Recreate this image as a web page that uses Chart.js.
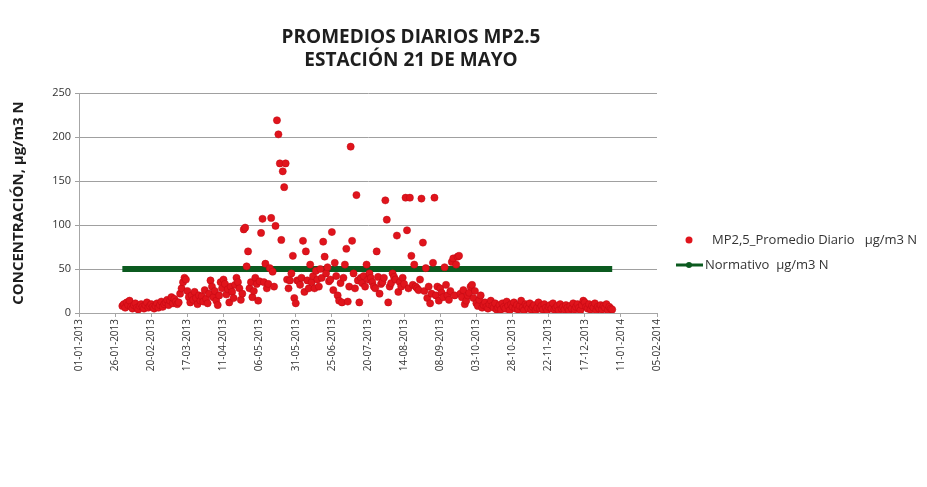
<!DOCTYPE html>
<html>
<head>
<meta charset="utf-8">
<script src="https://cdn.jsdelivr.net/npm/chart.js@4.4.1/dist/chart.umd.min.js"></script>
<style>
  html, body { margin: 0; padding: 0; background: #fff; }
  #wrap { position: relative; width: 927px; height: 487px; }
</style>
</head>
<body>
<div id="wrap"><canvas id="chart" width="927" height="487"></canvas></div>
<script>
var titleLines = ['PROMEDIOS DIARIOS MP2.5', 'ESTACIÓN 21 DE MAYO'];
var yTitle = 'CONCENTRACIÓN, µg/m3 N';
var seriesNames = ['MP2,5_Promedio Diario   µg/m3 N', 'Normativo  µg/m3 N'];

// x axis: days counted from 01-01-2013, tick every 25 days
var axisStart = Date.UTC(2013, 0, 1);
var xMin = 0, xMax = 400, xStep = 25;
var yMin = 0, yMax = 250, yStep = 50;

// daily averages, first value is day 30 (31-01-2013)
var firstDay = 30;
var mp25 = [
  8, 10, 6, 12, 9, 14, 7, 5, 9, 11,
  6, 4, 8, 10, 7, 5, 9, 12, 6, 8,
  10, 7, 5, 8, 11, 6, 9, 13, 7, 10,
  12, 15, 9, 14, 18, 11, 16, 13, 10, 12,
  22, 28, 35, 40, 38, 25, 18, 12, 20, 15,
  24, 17, 10, 20, 14, 19, 13, 26, 16, 11,
  22, 37, 30, 18, 25, 14, 9, 20, 35, 28,
  38, 33, 21, 27, 12, 30, 24, 17, 32, 40,
  35, 28, 15, 22, 95, 97, 53, 70, 28, 35,
  18, 25, 40, 33, 14, 36, 91, 107, 35, 56,
  28, 33, 51, 108, 47, 30, 99, 219, 203, 170,
  83, 161, 143, 170, 38, 28, 37, 45, 65, 17,
  11, 37, 36, 32, 40, 82, 24, 70, 37, 28,
  55, 35, 42, 28, 48, 38, 30, 50, 40, 81,
  64, 45, 52, 36, 38, 92, 26, 57, 42, 20,
  14, 34, 12, 40, 55, 73, 13, 30, 189, 82,
  45, 28, 134, 37, 12, 40, 34, 42, 30, 55,
  38, 45, 40, 35, 30, 28, 70, 41, 22, 33,
  35, 40, 128, 106, 12, 30, 34, 45, 41, 38,
  88, 24, 35, 30, 40, 33, 131, 94, 28, 131,
  65, 32, 55, 30, 28, 26, 38, 130, 80, 25,
  51, 17, 30, 11, 22, 57, 131, 20, 30, 14,
  28, 23, 18, 52, 32, 20, 15, 25, 58, 62,
  20, 55, 64, 65, 22, 18, 26, 10, 14, 20,
  23, 30, 32, 17, 25, 11, 8, 15, 20, 6,
  9, 12, 7, 5, 10, 14, 8, 6, 11, 4,
  6, 9, 4, 11, 7, 5, 13, 8, 3, 10,
  7, 12, 5, 9, 4, 8, 14, 6, 3, 10,
  8, 5, 11, 4, 7, 9, 3, 6, 12, 5,
  8, 4, 10, 6, 3, 7, 9, 5, 11, 4,
  6, 8, 3, 10, 5, 7, 4, 9, 6, 3,
  8, 5, 11, 4, 7, 10, 6, 3, 9, 14,
  12, 7, 5, 10, 4, 8, 6, 11, 3, 7,
  5, 9, 4, 8, 6, 10, 3, 7, 5, 4
];
var normativo = [50, 50];

var redColor = '#e0141c';
var greenColor = '#0b5a1f';

var mp25Points = mp25.map(function (v, i) { return { x: firstDay + i, y: v }; });
var lastDay = firstDay + mp25.length - 1;
var normPoints = [{ x: firstDay, y: normativo[0] }, { x: lastDay, y: normativo[1] }];

function dayLabel(d) {
  var dt = new Date(axisStart + d * 86400000);
  var dd = String(dt.getUTCDate()).padStart(2, '0');
  var mm = String(dt.getUTCMonth() + 1).padStart(2, '0');
  return dd + '-' + mm + '-' + dt.getUTCFullYear();
}

// title and legend drawn by hand, Excel style
var decoPlugin = {
  id: 'deco',
  afterDraw: function (chart) {
    var ctx = chart.ctx;
    ctx.save();
    ctx.font = 'bold 19px "Open Sans"';
    ctx.fillStyle = '#1e1e1e';
    ctx.textAlign = 'center';
    ctx.textBaseline = 'middle';
    for (var i = 0; i < titleLines.length; i++) {
      ctx.fillText(titleLines[i], 411, 38 + i * 23);
    }

    var lx = chart.chartArea.right + 32;
    ctx.font = '13px "Open Sans"';
    ctx.textAlign = 'left';
    // dots item
    ctx.fillStyle = redColor;
    ctx.beginPath(); ctx.arc(lx, 240, 3.5, 0, Math.PI * 2); ctx.fill();
    ctx.fillStyle = '#333';
    ctx.fillText(seriesNames[0], lx + 23, 240);
    // line item
    ctx.strokeStyle = greenColor; ctx.lineWidth = 3;
    ctx.beginPath(); ctx.moveTo(lx - 13, 265); ctx.lineTo(lx + 14, 265); ctx.stroke();
    ctx.fillStyle = greenColor;
    ctx.beginPath(); ctx.arc(lx, 265, 3, 0, Math.PI * 2); ctx.fill();
    ctx.fillStyle = '#333';
    ctx.fillText(seriesNames[1], lx + 16, 265);
    ctx.restore();
  }
};

new Chart(document.getElementById('chart'), {
  type: 'scatter',
  data: {
    datasets: [{
      label: seriesNames[0],
      data: mp25Points,
      backgroundColor: redColor,
      borderColor: '#c00812',
      borderWidth: 0.5,
      pointRadius: 3.6,
      pointStyle: 'circle',
      order: 1
    }, {
      type: 'line',
      label: seriesNames[1],
      data: normPoints,
      borderColor: greenColor,
      backgroundColor: greenColor,
      borderWidth: 6,
      pointRadius: 0,
      fill: false,
      order: 2
    }]
  },
  options: {
    responsive: false,
    animation: false,
    layout: { padding: { left: 8, top: 93, right: 270, bottom: 71 } },
    plugins: {
      title: { display: false },
      tooltip: { enabled: false },
      legend: { display: false }
    },
    scales: {
      x: {
        type: 'linear',
        min: xMin, max: xMax,
        afterBuildTicks: function (scale) {
          var t = [];
          for (var v = xMin; v <= xMax; v += xStep) t.push({ value: v });
          scale.ticks = t;
        },
        afterFit: function (scale) { scale.height = 103; },
        grid: { drawOnChartArea: false, color: '#a6a6a6', tickLength: 4 },
        border: { color: '#a6a6a6' },
        ticks: {
          minRotation: 90, maxRotation: 90,
          autoSkip: false,
          padding: 2,
          color: '#333',
          font: { family: 'Open Sans', size: 10 },
          callback: function (v) { return dayLabel(v); }
        }
      },
      y: {
        min: yMin, max: yMax,
        afterFit: function (scale) { scale.width = 71; },
        grid: { color: '#a0a0a0', tickLength: 4 },
        border: { color: '#a6a6a6' },
        ticks: {
          stepSize: yStep,
          padding: 4,
          color: '#333',
          font: { family: 'Open Sans', size: 11 }
        },
        title: {
          display: true,
          text: yTitle,
          color: '#1e1e1e',
          font: { family: 'Open Sans', size: 15, weight: 'bold' },
          padding: { top: 2, bottom: 2 }
        }
      }
    }
  },
  plugins: [decoPlugin]
});
</script>
</body>
</html>
